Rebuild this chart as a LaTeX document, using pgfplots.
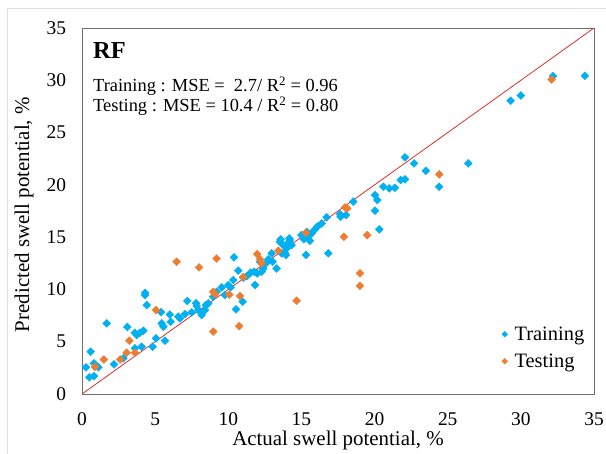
\documentclass[border=0pt]{standalone}
\usepackage{pgfplots}
\pgfplotsset{compat=1.18}
\usepackage{fontspec}
\setmainfont{Liberation Serif}

\definecolor{trainblue}{RGB}{0,176,240}
\definecolor{testorange}{RGB}{237,125,49}
\definecolor{fitred}{RGB}{225,45,45}
\definecolor{framegray}{RGB}{110,110,110}

\begin{document}
\begin{tikzpicture}
    % page size of the reference (axis box is 512 x 366)
    \path[use as bounding box] (-82bp,-60bp) rectangle (524bp,394bp);
    \draw[black!12, line width=0.8bp] (-75bp,-60bp) -- (-75bp,386bp) -- (524bp,386bp);

    \begin{axis}[
        scale only axis,
        width=512bp,
        height=366bp,
        xmin=0, xmax=35,
        ymin=0, ymax=35,
        xtick={0,5,...,35},
        ytick={0,5,...,35},
        major tick length=0pt,
        axis line style={framegray, line width=0.9bp},
        tick label style={font=\fontsize{19.5}{21}\selectfont},
        /pgf/number format/assume math mode=true,
        xticklabel style={anchor=base, inner sep=0pt, yshift=-31.5bp},
        yticklabel style={xshift=-12.5bp},
        xlabel={Actual swell potential, \%},
        ylabel={Predicted swell potential, \%},
        label style={font=\fontsize{21}{23}\selectfont},
        xlabel style={at={(axis description cs:0.5,0)}, anchor=base, inner sep=0pt, yshift=-51bp},
        ylabel style={at={(axis description cs:-0.113,0.49)}, anchor=center},
        clip=false,
        legend style={
            draw=none, fill=none,
            at={(0.814,0.195)}, anchor=north west,
            font=\fontsize{20.5}{22}\selectfont,
            row sep=8bp,
            /tikz/every odd column/.append style={column sep=5bp}
        },
        legend image post style={mark size=2bp},
        legend cell align=left
    ]

    \addplot[only marks, mark=square*, mark size=2.8bp,
        mark options={rotate=45, fill=trainblue, draw=trainblue}]
    coordinates {
        (0.27,2.55) (0.50,1.60) (0.82,1.72) (0.59,4.05) (0.82,2.93)
        (1.12,2.55) (1.69,6.76) (2.19,2.84) (2.83,3.41) (3.10,6.40)
        (3.62,5.86) (3.74,5.64) (3.96,5.86) (4.19,6.05) (3.62,4.37)
        (4.08,4.52) (4.31,9.68) (4.31,9.45) (4.42,8.50) (4.83,4.52)
        (5.06,5.32) (5.40,7.84) (5.45,6.76) (5.56,6.43) (5.67,5.10)
        (6.00,7.60) (6.06,6.90) (6.58,7.40) (6.70,7.23) (7.04,7.64)
        (7.20,8.90) (7.50,7.80) (7.80,8.67) (7.84,8.41) (7.95,8.03)
        (8.18,7.55) (8.41,8.03) (8.48,8.50) (8.63,8.67) (8.97,9.30)
        (9.20,9.78) (9.55,10.20) (9.77,9.46) (10.00,10.42) (10.16,10.20)
        (10.34,10.90) (10.39,13.07) (10.53,8.10) (10.68,11.80) (10.98,8.82)
        (11.03,11.12) (11.26,11.28) (11.53,11.60) (11.76,11.69) (11.83,10.42)
        (11.98,11.54) (12.28,11.69) (12.39,12.00) (12.17,12.65) (12.58,12.49)
        (12.73,12.87) (12.97,13.45) (13.03,12.65) (13.30,12.00) (13.53,14.56)
        (13.58,14.79) (13.76,14.24) (13.65,13.45) (13.88,13.50) (13.94,13.29)
        (14.00,13.93) (14.00,14.34) (14.17,14.88) (14.10,14.40) (14.22,14.72)
        (14.33,14.24) (15.00,15.20) (15.17,14.79) (15.36,15.50) (15.47,15.04)
        (15.58,14.66) (15.70,15.36) (15.93,15.74) (16.08,16.00) (16.38,16.30)
        (16.72,16.90) (15.31,13.30) (16.84,13.45) (17.63,17.20) (17.68,16.95)
        (18.05,17.10) (18.54,18.40) (20.03,19.02) (20.19,18.55) (20.03,17.53)
        (20.32,15.74) (20.60,19.82) (21.00,19.66) (21.39,19.72) (21.78,20.46)
        (22.08,20.52) (22.08,22.63) (22.70,22.05) (23.51,21.35) (24.42,19.82)
        (26.40,22.05) (29.30,28.04) (30.00,28.55) (32.20,30.40) (34.38,30.43)
    };
    \addlegendentry{Training}

    \addplot[only marks, mark=square*, mark size=2.8bp,
        mark options={rotate=45, fill=testorange, draw=testorange}]
    coordinates {
        (0.89,2.60) (1.50,3.30) (2.60,3.30) (3.05,3.95) (3.62,3.95)
        (3.24,5.10) (5.06,8.03) (6.47,12.65) (8.00,12.10) (8.97,5.96)
        (8.97,9.78) (9.09,9.56) (9.20,12.95) (10.07,9.50) (10.80,9.37)
        (10.75,6.50) (11.03,11.20) (11.98,13.38) (12.17,12.87) (12.28,12.49)
        (13.42,13.70) (14.67,8.92) (15.31,15.42) (17.90,15.04) (17.98,17.84)
        (18.13,17.75) (19.00,11.54) (19.00,10.35) (19.50,15.20) (24.42,21.00)
        (32.10,30.08)
    };
    \addlegendentry{Testing}

    \addplot[fitred, line width=0.8bp, forget plot] coordinates {(0,0) (35,35)};

    \node[anchor=base west, inner sep=0pt, font=\fontsize{24.5}{26}\selectfont\bfseries]
        at (axis cs:0.75,32.1) {RF};
    \node[anchor=base west, inner sep=0pt, font=\fontsize{18.5}{20}\selectfont]
        at (axis cs:0.75,28.9) {Training : MSE =\ \ 2.7/ R\textsuperscript{2} = 0.96};
    \node[anchor=base west, inner sep=0pt, font=\fontsize{18.5}{20}\selectfont]
        at (axis cs:0.75,27.0) {Testing : MSE = 10.4 / R\textsuperscript{2} = 0.80};

    \end{axis}
\end{tikzpicture}
\end{document}
